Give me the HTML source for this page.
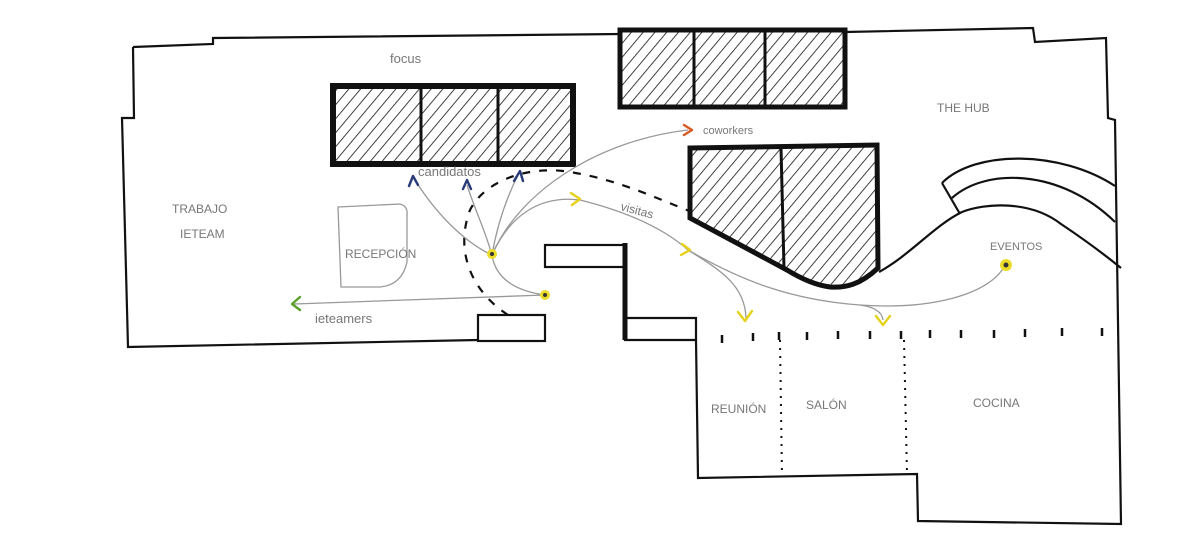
<!DOCTYPE html>
<html><head><meta charset="utf-8"><style>
html,body{margin:0;padding:0;background:#fff;}
svg{display:block;}
text{font-family:"Liberation Sans",sans-serif;fill:#777;}
</style></head><body>
<svg width="1200" height="560" viewBox="0 0 1200 560" xmlns="http://www.w3.org/2000/svg">
<defs>
<pattern id="h" patternUnits="userSpaceOnUse" width="9" height="9" patternTransform="rotate(40)">
<line x1="0" y1="0" x2="0" y2="9" stroke="#111" stroke-width="1.6"/>
</pattern>
<marker id="ay" markerWidth="10" markerHeight="10" refX="8" refY="5" orient="auto"><path d="M1,1 L8,5 L1,9" fill="none" stroke="#e6d21a" stroke-width="2.2"/></marker>
</defs>
<rect width="1200" height="560" fill="#fff"/>
<g fill="none" stroke="#111" stroke-width="2.2">
<!-- outer walls -->
<path d="M133,47 L213,44 L213,38 L622,34"/>
<path d="M845,32 L1033,28 L1035,42 L1106,38 L1108,118 L1115,120 L1121,524 L918,521 L917,474 L698,478 L696,340"/>
<path d="M133,47 L134,118 L122,118 L128,347 L478,340"/>
<rect x="478" y="315" width="67" height="26"/>
<rect x="545" y="245" width="80" height="22"/>
<path d="M625,243 L625,340 L696,340 L696,318 L625,318"/>
<line x1="625" y1="243" x2="625" y2="340" stroke-width="5"/>
<!-- curved wall -->
<path d="M879,272 C910,255 935,225 962,212 C985,203 1030,200 1061,224 C1085,240 1105,255 1121,268"/>
<path d="M942,183 C975,150 1060,150 1115,186"/>
<path d="M952,198 C985,168 1060,168 1115,222"/>
<line x1="942" y1="183" x2="960" y2="214"/>
</g>
<!-- focus block -->
<rect x="333" y="86" width="240" height="78" fill="url(#h)" stroke="#111" stroke-width="6"/>
<line x1="421" y1="86" x2="421" y2="164" stroke="#111" stroke-width="3"/>
<line x1="498" y1="86" x2="498" y2="164" stroke="#111" stroke-width="3"/>
<!-- top block -->
<rect x="620" y="30" width="225" height="77" fill="url(#h)" stroke="#111" stroke-width="5"/>
<line x1="694" y1="30" x2="694" y2="107" stroke="#111" stroke-width="3"/>
<line x1="765" y1="30" x2="765" y2="107" stroke="#111" stroke-width="3"/>
<!-- middle block -->
<path d="M690,148 L877,145 L878,268 C860,285 845,288 830,287 C815,285 800,278 787,270 L690,218 Z" fill="url(#h)" stroke="#111" stroke-width="5"/>
<line x1="781" y1="148" x2="784" y2="268" stroke="#111" stroke-width="3"/>
<!-- dotted lines -->
<g stroke="#111" stroke-width="2.5">
<path d="M722,335 v8 M753,333 v8 M779,332 v8 M807,332 v8 M838,331 v8 M870,331 v8 M901,331 v8 M930,330 v8 M961,330 v8 M994,330 v8 M1025,329 v8 M1062,328 v8 M1102,328 v8"/>
</g>
<line x1="780" y1="340" x2="782" y2="476" stroke="#111" stroke-width="2" stroke-dasharray="2,6"/>
<line x1="904" y1="340" x2="907" y2="474" stroke="#111" stroke-width="2" stroke-dasharray="2,6"/>
<!-- reception -->
<path d="M338,207 L400,204 Q408,206 407,215 L407,262 Q402,285 380,287 L341,287 Z" fill="none" stroke="#999" stroke-width="1.3"/>
<!-- dashed route -->
<path d="M508,315 C470,290 455,250 470,210 C485,180 530,165 570,172 C620,180 660,200 692,212" fill="none" stroke="#111" stroke-width="2.2" stroke-dasharray="8,9"/>
<!-- gray paths -->
<g fill="none" stroke="#999" stroke-width="1.3">
<path d="M545,295 C510,290 495,275 492,255 C470,245 440,220 415,180"/>
<path d="M492,255 C485,230 475,210 467,185"/>
<path d="M492,255 C498,220 508,195 518,175"/>
<path d="M492,255 C520,190 600,140 688,130"/>
<path d="M492,255 C510,215 540,195 580,200"/>
<path d="M545,295 L294,304"/>
<path d="M580,200 C620,210 660,225 688,250"/>
<path d="M688,250 C720,270 745,285 746,318"/>
<path d="M688,250 C740,280 790,300 860,305 C930,310 990,295 1005,265"/>
<path d="M860,305 C875,307 882,312 883,320"/>
</g>
<!-- arrowheads -->
<g fill="none" stroke-width="2.4" stroke-linecap="round" stroke-linejoin="round">
<path d="M409,186 L413,176 L418,185" stroke="#2a3b7a"/>
<path d="M463,189 L467,180 L471,189" stroke="#2a3b7a"/>
<path d="M514,181 L520,171 L523,181" stroke="#2a3b7a"/>
<path d="M300,297 L292,304 L300,310" stroke="#5aa02c"/>
<path d="M684,125 L692,130 L684,135" stroke="#d85a23"/>
<path d="M571,193 L580,199 L572,205" stroke="#e6d21a"/>
<path d="M682,244 L690,250 L681,255" stroke="#e6d21a"/>
<path d="M738,312 L745,321 L752,311" stroke="#e6d21a"/>
<path d="M876,316 L883,325 L890,316" stroke="#e6d21a"/>
</g>
<!-- dots -->
<circle cx="492" cy="254" r="5" fill="#ecdc2a"/><circle cx="492" cy="254" r="2" fill="#333"/>
<circle cx="545" cy="295" r="5" fill="#ecdc2a"/><circle cx="545" cy="295" r="2" fill="#333"/>
<circle cx="1006" cy="265" r="6" fill="#ecdc2a"/><circle cx="1006" cy="265" r="2.5" fill="#333"/>
<!-- labels -->
<text x="390" y="63" font-size="13">focus</text>
<text x="937" y="112" font-size="12">THE HUB</text>
<text x="172" y="213" font-size="12">TRABAJO</text>
<text x="180" y="238" font-size="12">IETEAM</text>
<text x="345" y="258" font-size="12">RECEPCIÓN</text>
<text x="418" y="176" font-size="13" fill="#555">candidatos</text>
<text x="703" y="134" font-size="11">coworkers</text>
<text x="620" y="210" font-size="12" transform="rotate(15 620 210)">visitas</text>
<text x="315" y="323" font-size="13">ieteamers</text>
<text x="990" y="250" font-size="11">EVENTOS</text>
<text x="711" y="413" font-size="12">REUNIÓN</text>
<text x="806" y="409" font-size="12">SALÓN</text>
<text x="973" y="407" font-size="12">COCINA</text>
</svg>
</body></html>
